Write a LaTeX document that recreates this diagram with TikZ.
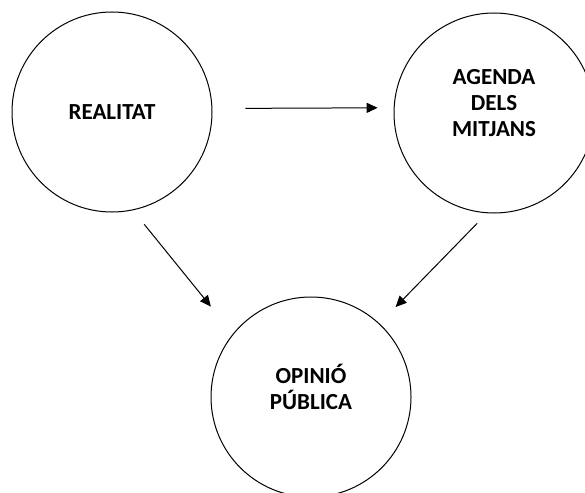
\documentclass[tikz,border=0pt]{standalone}
\usepackage{fontspec}
\setmainfont{Carlito}
\usetikzlibrary{arrows.meta}

\begin{document}
\begin{tikzpicture}[x=1pt,y=-1pt,
    idea/.style={circle,draw,line width=1pt,minimum size=200pt,inner sep=0pt,align=center,font=\fontsize{23}{26}\selectfont\bfseries},
    raised/.style={text depth=21pt},
    flow/.style={-{Triangle[length=11pt,width=10pt]},line width=1pt}]
    \useasboundingbox (0,0) rectangle (585,492);

    % Reality
    \node[idea] (realitat) at (112,112) {REALITAT};

    % Media agenda
    \node[idea,raised] (agenda) at (494,113) {AGENDA\\DELS\\MITJANS};

    % Public opinion
    \node[idea,raised] (opinio) at (311,397) {OPINIÓ\\PÚBLICA};

    % Arrows
    \draw[flow,shorten <=33pt,shorten >=16pt] (realitat.2) -- (agenda.177);
    \draw[flow,shorten <=18pt,shorten >=35pt] (realitat.-78) -- (opinio.141);
    \draw[flow,shorten <=14pt,shorten >=23pt] (agenda.-94) -- (opinio.47);
\end{tikzpicture}
\end{document}
